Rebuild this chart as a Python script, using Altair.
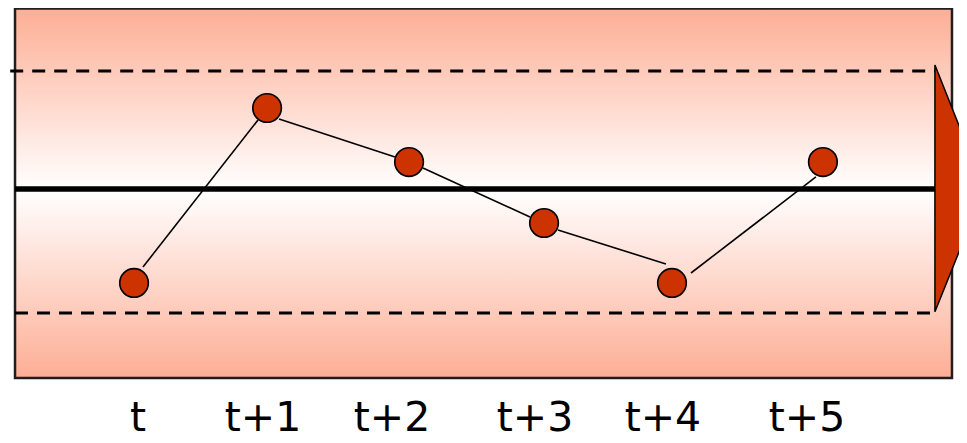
import altair as alt
import pandas as pd

# ---- values (x: time steps, y: units around the centre line) ----
labels = ["t", "t+1", "t+2", "t+3", "t+4", "t+5"]
point_x = [0.0, 0.967, 1.999, 2.98, 3.91, 5.007]
point_y = [-2.41, 2.077, 0.692, -0.872, -2.41, 0.692]
label_x = [0.029, 0.9375, 1.875, 2.914, 3.844, 4.891]
label_y = [-6.20] * 6

# connecting segments (they stop short of some circles)
seg_x = [0.065, 1.054, 2.100, 3.081, 4.048]
seg_y = [-2.0, 1.795, 0.538, -1.051, -2.154]
seg_x2 = [0.901, 1.897, 2.878, 3.866, 4.956]
seg_y2 = [1.769, 0.821, -0.718, -1.923, 0.308]

# control limits and centre line
limit_y = [3.026, -3.18]
limit_start = [-0.90, -0.865]
limit_end = [5.821, 5.821]
center_y = [0.0]
center_start = [-0.865]
center_end = [5.821]

# background band
band_left, band_right = [-0.865], [5.945]
band_top, band_bottom = [4.63], [-4.846]

# arrow head (triangle)
arrow_x = [5.821, 6.18]
arrow_top = [3.18, 0.0]
arrow_bottom = [-3.15, 0.0]

X_DOMAIN = [-0.916, 5.996]
Y_DOMAIN = [-6.513, 4.641]

xs = alt.Scale(domain=X_DOMAIN, nice=False, zero=False)
ys = alt.Scale(domain=Y_DOMAIN, nice=False, zero=False)

SALMON = "#fdae95"
RED = "#cc3300"

band_df = pd.DataFrame({"x": band_left, "x2": band_right, "y": band_top, "y2": band_bottom})
band = alt.Chart(band_df).mark_rect(
    fill={
        "gradient": "linear",
        "x1": 0, "y1": 0, "x2": 0, "y2": 1,
        "stops": [
            {"offset": 0.0, "color": SALMON},
            {"offset": 0.49, "color": "#ffffff"},
            {"offset": 1.0, "color": SALMON},
        ],
    },
    stroke="#1e1e1e",
    strokeWidth=2.5,
).encode(
    x=alt.X("x:Q", scale=xs, axis=None),
    x2="x2:Q",
    y=alt.Y("y:Q", scale=ys, axis=None),
    y2="y2:Q",
)

limits_df = pd.DataFrame({"x": limit_start, "x2": limit_end, "y": limit_y})
limits = alt.Chart(limits_df).mark_rule(
    color="black", strokeWidth=3, strokeDash=[13, 9]
).encode(
    x=alt.X("x:Q", scale=xs, axis=None),
    x2="x2:Q",
    y=alt.Y("y:Q", scale=ys, axis=None),
)

center_df = pd.DataFrame({"x": center_start, "x2": center_end, "y": center_y})
center = alt.Chart(center_df).mark_rule(color="black", strokeWidth=5.5).encode(
    x=alt.X("x:Q", scale=xs, axis=None),
    x2="x2:Q",
    y=alt.Y("y:Q", scale=ys, axis=None),
)

seg_df = pd.DataFrame({"x": seg_x, "y": seg_y, "x2": seg_x2, "y2": seg_y2})
segments = alt.Chart(seg_df).mark_rule(color="black", strokeWidth=1.6).encode(
    x=alt.X("x:Q", scale=xs, axis=None),
    y=alt.Y("y:Q", scale=ys, axis=None),
    x2="x2:Q",
    y2="y2:Q",
)

arrow_df = pd.DataFrame({"x": arrow_x, "y": arrow_top, "y2": arrow_bottom})
arrow = alt.Chart(arrow_df).mark_area(
    color=RED, stroke="black", strokeWidth=1.5, opacity=1, clip=True
).encode(
    x=alt.X("x:Q", scale=xs, axis=None),
    y=alt.Y("y:Q", scale=ys, axis=None),
    y2="y2:Q",
)

pts_df = pd.DataFrame({"x": point_x, "y": point_y, "label": labels})
points = alt.Chart(pts_df).mark_circle(
    size=820, color=RED, opacity=1, stroke="black", strokeWidth=1.6
).encode(
    x=alt.X("x:Q", scale=xs, axis=None),
    y=alt.Y("y:Q", scale=ys, axis=None),
)

lab_df = pd.DataFrame({"x": label_x, "y": label_y, "label": labels})
texts = alt.Chart(lab_df).mark_text(
    font="DejaVu Sans", fontSize=41, align="center", baseline="alphabetic", color="black"
).encode(
    x=alt.X("x:Q", scale=xs, axis=None),
    y=alt.Y("y:Q", scale=ys, axis=None),
    text="label:N",
)

chart = alt.layer(band, limits, center, segments, arrow, points, texts).properties(
    width=951,
    height=435,
    padding=0,
    autosize=alt.AutoSizeParams(type="none"),
    background="white",
).configure_view(stroke=None)

chart.save("out.html", embed_options={"renderer": "svg", "actions": False})
